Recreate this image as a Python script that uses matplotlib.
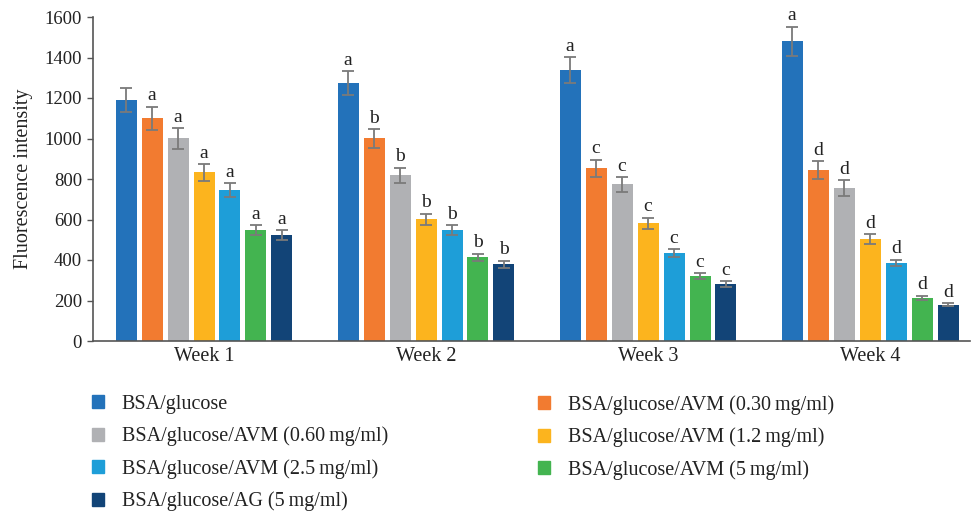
import numpy as np
import matplotlib.pyplot as plt
from matplotlib.patches import Patch

plt.rcParams['font.family'] = ['Liberation Serif', 'DejaVu Serif']

weeks = ['Week 1', 'Week 2', 'Week 3', 'Week 4']
series = ['BSA/glucose',
          'BSA/glucose/AVM (0.30\u2009mg/ml)',
          'BSA/glucose/AVM (0.60\u2009mg/ml)',
          'BSA/glucose/AVM (1.2\u2009mg/ml)',
          'BSA/glucose/AVM (2.5\u2009mg/ml)',
          'BSA/glucose/AVM (5\u2009mg/ml)',
          'BSA/glucose/AG (5\u2009mg/ml)']
colors = ['#2372BA', '#F27B30', '#B0B1B4', '#FCB41E', '#1E9ED8', '#43B450', '#124477']

# rows = series, columns = weeks
values = [[1189, 1273, 1337, 1481],
          [1100, 1001, 853, 844],
          [1001, 818, 774, 755],
          [833, 601, 581, 504],
          [745, 547, 433, 385],
          [547, 413, 320, 212],
          [522, 379, 282, 179]]
errors = [[60, 60, 64, 72],
          [57, 46, 43, 45],
          [51, 38, 36, 38],
          [41, 28, 28, 23],
          [35, 24, 20, 17],
          [26, 18, 16, 11],
          [25, 17, 13, 8]]
letters = [['', 'a', 'a', 'a'],
           ['a', 'b', 'c', 'd'],
           ['a', 'b', 'c', 'd'],
           ['a', 'b', 'c', 'd'],
           ['a', 'b', 'c', 'd'],
           ['a', 'b', 'c', 'd'],
           ['a', 'b', 'c', 'd']]

fig = plt.figure(figsize=(9.74, 5.13), dpi=100)
ax = fig.add_axes([93/974, 1-341/513, 877/974, 324/513])

x = np.arange(len(weeks))
pitch = 0.117
width = 0.0946
for i in range(len(series)):
    xs = x + (i - 3) * pitch
    ax.bar(xs, values[i], width=width, color=colors[i], zorder=2)
    ax.errorbar(xs, values[i], yerr=errors[i], fmt='none', ecolor='#7a7a7a',
                elinewidth=1.3, capsize=4, capthick=1.3, zorder=3)
    for j in range(len(weeks)):
        ax.text(xs[j], values[i][j] + errors[i][j] + 12, letters[i][j],
                ha='center', va='bottom', fontsize=14, color='#222222')

ax.set_xlim(-0.5, 3.45)
ax.set_ylim(0, 1600)
ax.set_yticks(range(0, 1601, 200))
ax.set_xticks(x)
ax.set_xticklabels(weeks, fontsize=14.5, color='#222222')
ax.tick_params(axis='x', length=0, pad=4)
ax.tick_params(axis='y', labelsize=13.5, length=4, width=1, color='#555555',
               labelcolor='#222222', pad=4)
ax.set_ylabel('Fluorescence intensity', fontsize=14.5, color='#222222', labelpad=8)
for s in ['top', 'right']:
    ax.spines[s].set_visible(False)
for s in ['left', 'bottom']:
    ax.spines[s].set_color('#555555')
    ax.spines[s].set_linewidth(1.2)

handles = [Patch(color=c) for c in colors]
left_idx = [0, 2, 4, 6]
right_idx = [1, 3, 5]
kw = dict(frameon=False, fontsize=14.5, handlelength=0.62, handleheight=0.62,
          handletextpad=0.85, labelspacing=0.63, borderaxespad=0, borderpad=0,
          labelcolor='#222222')
fig.legend([handles[i] for i in left_idx], [series[i] for i in left_idx],
           loc='upper left', bbox_to_anchor=(92/974, 1-395/513), **kw)
fig.legend([handles[i] for i in right_idx], [series[i] for i in right_idx],
           loc='upper left', bbox_to_anchor=(538/974, 1-395/513), **kw)

fig.savefig('out.png', dpi=100)
